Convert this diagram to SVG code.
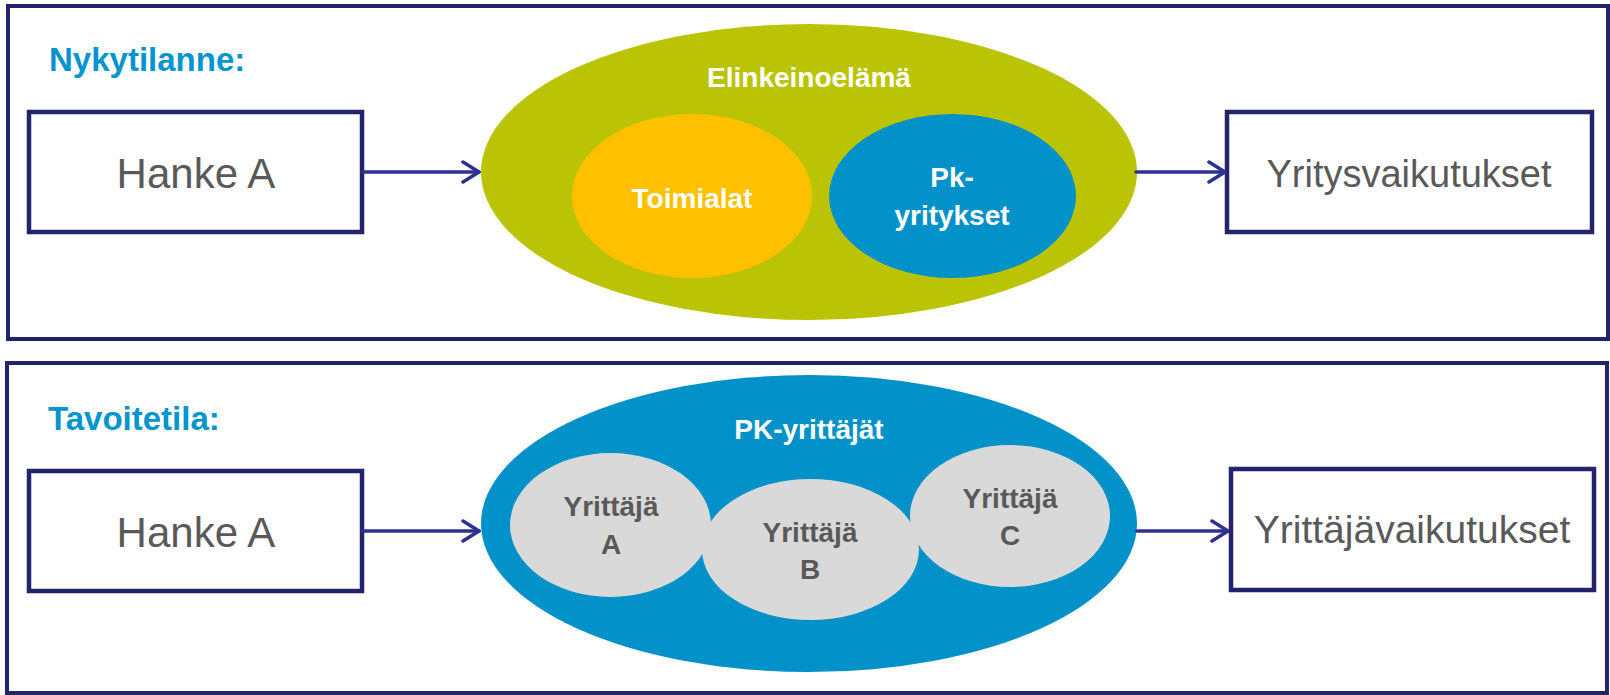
<svg xmlns="http://www.w3.org/2000/svg" width="1610" height="695" viewBox="0 0 1610 695">
<defs>
<style>
.panel{fill:#fff;stroke:#22236A;stroke-width:4}
.box{fill:#fff;stroke:#22236A;stroke-width:4.5}
.head{font-family:"Liberation Sans",Arial,sans-serif;font-weight:bold;font-size:33px;fill:#0494CE}
.boxt{font-family:"Liberation Sans",Arial,sans-serif;fill:#595959;text-anchor:middle}
.wt{font-family:"Liberation Sans",Arial,sans-serif;font-weight:bold;font-size:28px;fill:#fff;text-anchor:middle}
.gt{font-family:"Liberation Sans",Arial,sans-serif;font-weight:bold;font-size:28px;fill:#595959;text-anchor:middle}
.conn{fill:none;stroke:#2E3192;stroke-width:3.5;stroke-linecap:round;stroke-linejoin:round}
</style>
<marker id="chev" viewBox="0 0 20 24" refX="18" refY="12" markerWidth="20" markerHeight="24" markerUnits="userSpaceOnUse" orient="auto">
<path d="M2,2 L18,12 L2,22" fill="none" stroke="#2E3192" stroke-width="3.5" stroke-linecap="round" stroke-linejoin="round"/>
</marker>
</defs>
<rect width="1610" height="695" fill="#fff"/>

<g id="panel-top">
<rect class="panel" x="8" y="6" width="1600" height="333"/>
<text class="head" x="49" y="71">Nykytilanne:</text>
</g>
<g id="panel-bottom">
<rect class="panel" x="7" y="363" width="1600" height="330"/>
<text class="head" x="48" y="430">Tavoitetila:</text>
</g>

<g id="hanke-a-top">
<rect class="box" x="29" y="112" width="333" height="120"/>
<text class="boxt" x="196" y="188" font-size="42">Hanke A</text>
</g>
<g id="elinkeinoelama">
<ellipse cx="809" cy="172" rx="328" ry="148" fill="#BBC404"/>
<text class="wt" x="809" y="87">Elinkeinoelämä</text>
</g>
<g id="toimialat">
<ellipse cx="692" cy="196" rx="120" ry="82" fill="#FFC000"/>
<text class="wt" x="692" y="208">Toimialat</text>
</g>
<g id="pk-yritykset">
<ellipse cx="952.5" cy="196" rx="123.5" ry="82" fill="#0391C9"/>
<text class="wt" x="952" y="187">Pk-</text>
<text class="wt" x="952" y="225">yritykset</text>
</g>
<g id="yritysvaikutukset">
<rect class="box" x="1227" y="112" width="365" height="120"/>
<text class="boxt" x="1409" y="187" font-size="38">Yritysvaikutukset</text>
</g>

<g id="hanke-a-bottom">
<rect class="box" x="29" y="471" width="333" height="120"/>
<text class="boxt" x="196" y="547" font-size="42">Hanke A</text>
</g>
<g id="pk-yrittajat">
<ellipse cx="809" cy="523.5" rx="328" ry="148.5" fill="#0391C9"/>
<text class="wt" x="809" y="439">PK-yrittäjät</text>
</g>
<g id="yrittaja-a">
<ellipse cx="610.5" cy="525" rx="100.5" ry="72" fill="#D9D9D9"/>
<text class="gt" x="611" y="516">Yrittäjä</text>
<text class="gt" x="611" y="554">A</text>
</g>
<g id="yrittaja-b">
<ellipse cx="810.5" cy="549.5" rx="108.5" ry="70.5" fill="#D9D9D9"/>
<text class="gt" x="810" y="542">Yrittäjä</text>
<text class="gt" x="810" y="579">B</text>
</g>
<g id="yrittaja-c">
<ellipse cx="1010" cy="516" rx="100" ry="71" fill="#D9D9D9"/>
<text class="gt" x="1010" y="508">Yrittäjä</text>
<text class="gt" x="1010" y="545">C</text>
</g>
<g id="yrittajavaikutukset">
<rect class="box" x="1231" y="469" width="363" height="121"/>
<text class="boxt" x="1412" y="543" font-size="39">Yrittäjävaikutukset</text>
</g>

<g id="connectors">
<path class="conn" d="M362,172 L479,172" marker-end="url(#chev)"/>
<path class="conn" d="M1136,172 L1225,172" marker-end="url(#chev)"/>
<path class="conn" d="M362,531 L479,531" marker-end="url(#chev)"/>
<path class="conn" d="M1137,531 L1228,531" marker-end="url(#chev)"/>
</g>
</svg>
